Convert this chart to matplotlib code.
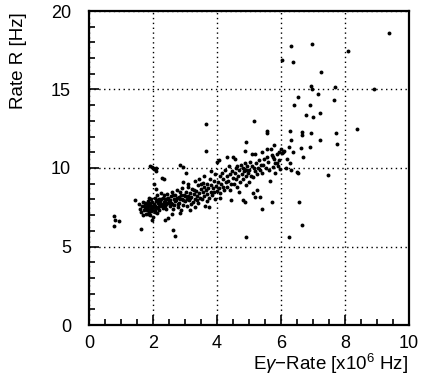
import matplotlib
matplotlib.use("Agg")
import matplotlib.pyplot as plt
from matplotlib.ticker import MultipleLocator

plt.rcParams['font.family'] = ['Liberation Sans', 'DejaVu Sans']
plt.rcParams['mathtext.fontset'] = 'custom'
plt.rcParams['mathtext.rm'] = 'Liberation Sans'
plt.rcParams['mathtext.it'] = 'Liberation Sans:italic'
plt.rcParams['mathtext.default'] = 'regular'

# ---- data (x: E-gamma rate [1e6 Hz], y: rate R [Hz]) ----
outliers = [
    (9.38, 18.62), (6.31, 17.8), (6.96, 17.9), (6.04, 16.9), (6.38, 16.75), (8.08, 17.43),
    (7.25, 16.1), (6.93, 15.2), (6.97, 15.0), (7.68, 15.17), (8.9, 15.0), (7.16, 14.7),
    (6.54, 14.5), (7.67, 14.36), (6.4, 14.04), (6.9, 14.04), (6.77, 13.4), (7.0, 13.26),
    (7.21, 13.5), (5.17, 12.98), (3.66, 12.8), (8.36, 12.5), (5.55, 12.25), (5.57, 12.33),
    (6.66, 12.3), (6.66, 12.1), (6.28, 12.36), (6.93, 12.24), (7.71, 12.24), (7.23, 11.8),
    (6.32, 11.8), (4.9, 11.67), (7.74, 11.5), (5.79, 11.47), (6.26, 11.35), (6.92, 11.35),
    (3.66, 11.1), (6.63, 11.3), (6.38, 11.0), (6.69, 10.7), (6.28, 10.35), (6.49, 9.76),
    (6.52, 9.65), (7.47, 9.54), (6.57, 7.85), (6.67, 6.4), (6.24, 5.62), (4.9, 5.62),
    (5.72, 7.85), (5.4, 7.38), (2.64, 6.04), (2.7, 5.66), (1.63, 6.13), (0.77, 6.93),
    (0.82, 6.68), (0.95, 6.64), (0.78, 6.3), (3.75, 7.53), (6.0, 11.2), (6.05, 11.05),
    (6.1, 11.1), (6.02, 10.95), (6.15, 10.0), (6.3, 9.9), (6.2, 10.6),
]

band_low = [
    (1.45, 7.95), (1.55, 7.7), (1.6, 7.4), (1.62, 7.2), (1.65, 7.6), (1.68, 7.0), (1.7, 7.85),
    (1.72, 7.3), (1.75, 7.5), (1.78, 7.1), (1.8, 7.7), (1.8, 7.3), (1.83, 7.9), (1.85, 7.55),
    (1.86, 7.2), (1.88, 8.1), (1.9, 7.4), (1.9, 7.75), (1.92, 7.0), (1.94, 7.6), (1.95, 8.0),
    (1.97, 7.3), (1.98, 7.85), (1.99, 6.85), (2.0, 7.5), (1.98, 6.68), (2.38, 6.68), (2.48, 6.8),
    (1.92, 10.1), (1.96, 10.05), (2.0, 10.0), (2.03, 9.95), (2.08, 10.0), (2.1, 9.8),
    (2.04, 8.97), (2.09, 8.65), (2.28, 9.37), (2.35, 9.3),
    (2.02, 7.7), (2.05, 7.3), (2.05, 8.1), (2.08, 7.9), (2.1, 7.5), (2.12, 7.15), (2.13, 8.3),
    (2.15, 7.8), (2.18, 7.6), (2.2, 8.0), (2.2, 7.35), (2.23, 7.9), (2.25, 8.4), (2.27, 7.65),
    (2.3, 8.1), (2.3, 7.45), (2.33, 7.85), (2.35, 8.25), (2.37, 7.6), (2.4, 8.0), (2.42, 7.4),
    (2.44, 8.35), (2.46, 7.75), (2.48, 8.1), (2.5, 7.9),
    (1.76, 7.8), (1.82, 7.45), (1.87, 7.65), (1.93, 7.25), (2.06, 7.6), (2.11, 7.95),
    (2.16, 7.45), (2.21, 7.7), (2.26, 8.0), (2.31, 7.7), (2.36, 8.05), (2.41, 7.7), (2.45, 8.0),
    (1.73, 7.55), (1.84, 7.1), (1.96, 7.5), (2.07, 7.2), (2.19, 7.85), (2.29, 7.55), (2.39, 7.85),
]

band_mid = [
    (2.52, 7.55), (2.55, 8.2), (2.57, 7.8), (2.6, 8.5), (2.62, 7.4), (2.65, 8.0), (2.67, 7.65),
    (2.7, 8.3), (2.72, 7.95), (2.75, 8.6), (2.77, 7.5), (2.8, 8.15), (2.82, 7.8), (2.85, 8.45),
    (2.87, 7.3), (2.9, 8.0), (2.92, 8.7), (2.95, 7.65), (2.97, 8.3), (3.0, 7.9), (2.6, 7.05),
    (2.85, 7.15), (2.85, 10.2), (2.93, 10.07), (3.03, 9.7), (2.95, 9.1),
    (2.54, 7.95), (2.59, 7.7), (2.64, 8.25), (2.69, 7.9), (2.74, 8.1), (2.79, 7.7), (2.84, 8.0),
    (2.89, 8.3), (2.94, 7.95), (2.99, 8.2),
    (3.02, 8.5), (3.05, 7.6), (3.08, 8.2), (3.1, 8.8), (3.12, 7.95), (3.15, 8.4), (3.18, 7.7),
    (3.2, 8.15), (3.22, 8.65), (3.25, 7.85), (3.28, 8.35), (3.3, 7.5), (3.32, 8.0), (3.35, 8.55),
    (3.38, 8.2), (3.4, 7.8), (3.42, 8.9), (3.45, 8.4), (3.48, 8.1), (3.5, 8.65), (3.1, 9.0),
    (3.3, 9.2), (3.45, 9.3), (3.15, 7.3), (3.06, 8.05), (3.17, 8.1), (3.27, 8.6), (3.37, 7.95),
    (3.52, 8.0), (3.55, 8.45), (3.58, 8.8), (3.6, 8.2), (3.62, 7.6), (3.65, 8.6), (3.68, 9.0),
    (3.7, 8.35), (3.72, 8.75), (3.75, 8.1), (3.78, 9.3), (3.8, 8.5), (3.82, 8.9), (3.85, 8.3),
    (3.88, 8.7), (3.9, 9.2), (3.92, 8.45), (3.95, 8.0), (3.97, 8.85), (4.0, 8.55), (3.6, 9.5),
    (3.8, 9.8), (3.95, 9.6), (3.7, 7.9), (3.5, 9.0), (3.55, 9.05),
]

band_high = [
    (4.02, 9.1), (4.05, 8.7), (4.08, 9.5), (4.1, 8.4), (4.12, 9.0), (4.15, 9.7), (4.18, 8.8),
    (4.2, 9.3), (4.22, 8.6), (4.25, 9.9), (4.28, 9.1), (4.3, 8.8), (4.32, 9.5), (4.35, 9.2),
    (4.38, 10.1), (4.4, 8.6), (4.42, 9.6), (4.45, 9.0), (4.48, 9.8), (4.5, 9.35), (4.0, 10.4),
    (4.05, 10.5), (4.3, 10.7), (4.5, 10.7), (4.55, 10.6), (4.43, 7.95), (4.1, 8.1),
    (4.52, 9.0), (4.55, 9.7), (4.58, 10.0), (4.6, 9.3), (4.62, 8.8), (4.64, 10.1), (4.67, 9.5),
    (4.7, 9.85), (4.72, 9.1), (4.75, 10.2), (4.78, 9.6), (4.8, 10.0), (4.82, 9.3), (4.85, 9.8),
    (4.88, 10.3), (4.9, 9.5), (4.92, 9.9), (4.95, 10.1), (4.98, 9.7), (4.7, 8.5), (4.9, 8.9),
    (4.8, 7.95), (4.86, 7.85), (4.88, 11.07),
    (5.0, 9.9), (5.02, 10.4), (5.05, 9.5), (5.08, 10.1), (5.1, 10.9), (5.12, 9.4), (5.15, 10.0),
    (5.18, 9.8), (5.2, 10.9), (5.22, 10.3), (5.25, 9.6), (5.28, 10.0), (5.3, 10.5), (5.33, 9.9),
    (5.36, 10.2), (5.4, 11.0), (5.42, 9.7), (5.45, 10.2), (5.48, 10.6), (5.0, 9.1), (5.13, 8.38),
    (5.2, 8.17), (5.34, 8.17), (5.25, 8.6),
    (5.52, 10.0), (5.55, 11.2), (5.55, 10.7), (5.6, 10.4), (5.63, 9.9), (5.68, 11.2), (5.67, 9.2),
    (5.72, 10.8), (5.76, 10.07), (5.78, 10.6), (5.8, 9.7), (5.82, 10.3), (5.86, 10.3), (5.88, 10.9),
    (5.9, 10.1), (5.93, 10.5), (5.95, 11.0), (5.98, 9.95), (5.76, 10.7),
]

x_ticks = [0, 2, 4, 6, 8, 10]
y_ticks = [0, 5, 10, 15, 20]
x_label = r"E$\it{\gamma}$$-$Rate [x10$^6$ Hz]"
y_label = "Rate R [Hz]"

points = outliers + band_low + band_mid + band_high
xs = [p[0] for p in points]
ys = [p[1] for p in points]

fig = plt.figure(figsize=(4.22, 3.82), dpi=100)
ax = fig.add_axes([89 / 422, 1 - 325 / 382, 320 / 422, 314 / 382])

ax.plot(xs, ys, 'o', color='black', markersize=2.8, markeredgewidth=0)

ax.set_xlim(0, 10)
ax.set_ylim(0, 20)
ax.set_xticks(x_ticks)
ax.set_yticks(y_ticks)
ax.xaxis.set_minor_locator(MultipleLocator(0.5))
ax.yaxis.set_minor_locator(MultipleLocator(1))
ax.tick_params(which='both', direction='in', top=False, right=False, width=1.2, colors='black')
ax.tick_params(which='major', length=7)
ax.tick_params(which='minor', length=4)
ax.tick_params(axis='x', which='major', pad=7, labelsize=13)
ax.tick_params(axis='y', which='major', pad=13, labelsize=13)
ax.grid(True, which='major', linestyle=(0, (1, 2.5)), color='black', linewidth=1.0)

for side in ax.spines.values():
    side.set_linewidth(1.6)

fig.text(19 / 422, 1 - 12 / 382, y_label, rotation=90, ha='center', va='top', fontsize=13.5)
fig.text(408 / 422, 1 - 364 / 382, x_label, ha='right', va='center', fontsize=13.5)

fig.savefig("out.png", dpi=100)
